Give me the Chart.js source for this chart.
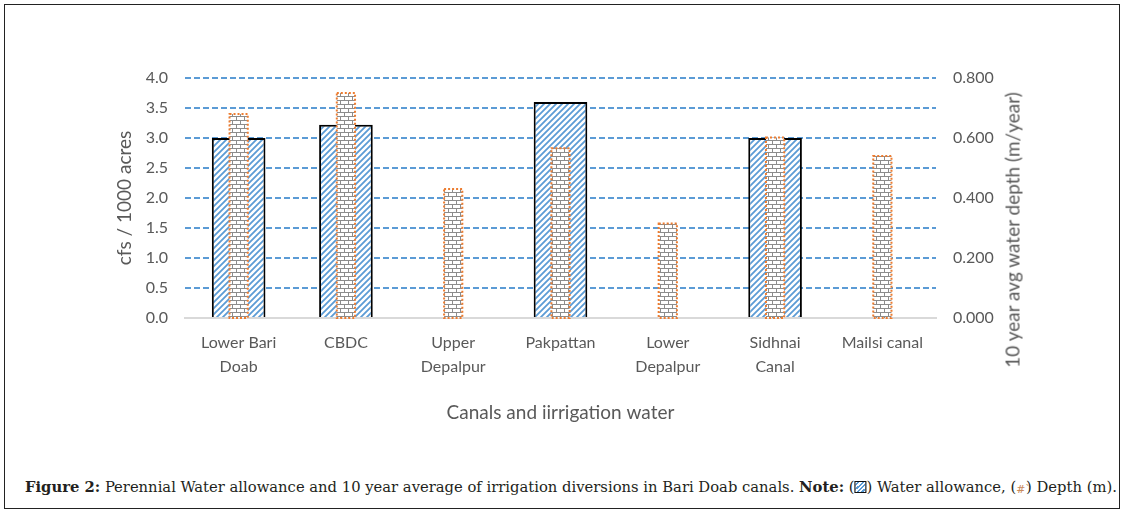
<!DOCTYPE html>
<html>
<head>
<meta charset="utf-8">
<script src="https://cdn.jsdelivr.net/npm/chart.js@4"></script>
<style>
  body { margin: 0; background: #fff; }
  #frame { position: absolute; left: 4px; top: 4px; width: 1116px; height: 505px; border: 1px solid #222; box-sizing: border-box; }
  #wrap { position: absolute; left: 0; top: 0; width: 1126px; height: 460px; }
  #rtitle { position: absolute; left: 1012px; top: 230px; transform: translate(-50%, -50%) rotate(-90deg); white-space: nowrap;
            font-family: Lato, "Liberation Sans", sans-serif; font-size: 19px; color: #595959; }
  #caption { position: absolute; left: 25px; top: 478px; font-family: "DejaVu Serif Condensed", "DejaVu Serif", serif; font-size: 15px; color: #231f20; white-space: nowrap; transform-origin: left top; }
  .ico1 { display: inline-block; width: 9px; height: 10px; border: 1.5px solid #111; vertical-align: -1px;
          background: repeating-linear-gradient(-45deg, #fff 0 1.5px, #5b9bd5 1.5px 3px); }
  .ico2 { display: inline-block; width: 9px; height: 10px; vertical-align: -1px; color: #c98a5a; font-size: 11px; line-height: 10px; }
</style>
</head>
<body>
<div id="frame"></div>
<div id="wrap"><canvas id="chart" width="1126" height="460"></canvas></div>
<div id="rtitle">10 year avg water depth (m/year)</div>
<div id="caption"><b>Figure 2:</b> Perennial Water allowance and 10 year average of irrigation diversions in Bari Doab canals. <b>Note:</b> (<span class="ico1"></span>) Water allowance, (<span class="ico2">#`</span>) Depth (m).</div>
<script>
// canals
let canals = [["Lower Bari", "Doab"], "CBDC", ["Upper", "Depalpur"], "Pakpattan", ["Lower", "Depalpur"], ["Sidhnai", "Canal"], "Mailsi canal"];
// cfs / 1000 acres (left axis)
let allowance = [3.0, 3.22, null, 3.6, null, 3.0, null];
// 10 year avg water depth, m/year (right axis)
let depth = [0.68, 0.75, 0.43, 0.566, 0.315, 0.602, 0.54];

let leftTicks = [0, 0.5, 1.0, 1.5, 2.0, 2.5, 3.0, 3.5, 4.0];
let rightTicks = [0, 0.2, 0.4, 0.6, 0.8];

let textColor = "#595959";
let fontFam = "Lato, 'Liberation Sans', sans-serif";

// hatch pattern for water allowance
function stripes() {
  let c = document.createElement("canvas");
  c.width = 6; c.height = 6;
  let g = c.getContext("2d");
  g.fillStyle = "#fff"; g.fillRect(0, 0, 6, 6);
  g.strokeStyle = "#5b9bd5"; g.lineWidth = 1.8;
  g.beginPath();
  g.moveTo(-1, 7); g.lineTo(7, -1);
  g.moveTo(-4, 4); g.lineTo(4, -4);
  g.moveTo(2, 10); g.lineTo(10, 2);
  g.stroke();
  return g.createPattern(c, "repeat");
}

// brick pattern for depth
function bricks() {
  let c = document.createElement("canvas");
  c.width = 8; c.height = 8;
  let g = c.getContext("2d");
  g.fillStyle = "#fff"; g.fillRect(0, 0, 8, 8);
  g.fillStyle = "#8c8c8c";
  g.fillRect(0, 0, 8, 1);
  g.fillRect(0, 4, 8, 1);
  g.fillRect(0, 0, 1, 4);
  g.fillRect(4, 4, 1, 4);
  return g.createPattern(c, "repeat");
}

// dotted orange outline around the depth bars
let dottedOutline = {
  id: "dottedOutline",
  afterDatasetDraw(chart, args) {
    if (args.index !== 1) return;
    let ctx = chart.ctx;
    ctx.save();
    ctx.strokeStyle = "#ed7d31";
    ctx.lineWidth = 2;
    ctx.setLineDash([2, 2]);
    args.meta.data.forEach(bar => {
      let p = bar.getProps(["x", "y", "base", "width"], true);
      ctx.strokeRect(p.x - p.width / 2, p.y, p.width, p.base - p.y);
    });
    ctx.restore();
  }
};

let ctx = document.getElementById("chart").getContext("2d");

let chart = new Chart(ctx, {
  type: "bar",
  data: {
    labels: canals,
    datasets: [{
      label: "Water allowance",
      data: allowance,
      yAxisID: "y",
      backgroundColor: stripes(),
      borderColor: "#000",
      borderWidth: 2,
      borderSkipped: "start",
      grouped: false,
      barPercentage: 0.5,
      categoryPercentage: 1,
      order: 2
    }, {
      label: "Depth (m)",
      data: depth,
      yAxisID: "y1",
      backgroundColor: bricks(),
      borderWidth: 0,
      grouped: false,
      barPercentage: 0.17,
      categoryPercentage: 1,
      order: 1
    }]
  },
  options: {
    responsive: false,
    animation: false,
    layout: { padding: { left: 100, right: 96, top: 78, bottom: 30 } },
    plugins: { legend: { display: false }, tooltip: { enabled: false } },
    scales: {
      x: {
        grid: { display: false, drawTicks: false },
        border: { display: true, color: "#d9d9d9", width: 2 },
        ticks: { color: textColor, font: { family: fontFam, size: 16, lineHeight: 1.5 }, padding: 13, maxRotation: 0, autoSkip: false },
        title: { display: true, text: "Canals and iirrigation water", color: textColor, font: { family: fontFam, size: 19 }, padding: { top: 0, bottom: 6 } },
        afterFit(scale) { scale.height = 112; }
      },
      y: {
        position: "left",
        min: 0, max: 4,
        afterBuildTicks(scale) { scale.ticks = leftTicks.map(v => ({ value: v })); },
        grid: {
          drawTicks: false,
          color: c => c.tick && c.tick.value === 0 ? "rgba(0,0,0,0)" : "#5b9bd5",
          lineWidth: 2
        },
        border: { display: false, dash: [6, 3] },
        ticks: { color: textColor, font: { family: fontFam, size: 16 }, padding: 17, callback: v => v.toFixed(1) },
        title: { display: true, text: "cfs / 1000 acres", color: textColor, font: { family: fontFam, size: 19 }, padding: { top: 13, bottom: 0 } },
        afterFit(scale) { scale.width = 85; }
      },
      y1: {
        position: "right",
        min: 0, max: 0.8,
        afterBuildTicks(scale) { scale.ticks = rightTicks.map(v => ({ value: v })); },
        grid: { display: false, drawTicks: false },
        border: { display: false },
        ticks: { color: textColor, font: { family: fontFam, size: 16 }, padding: 17, callback: v => v.toFixed(3) },
        title: { display: false },
        afterFit(scale) { scale.width = 94; }
      }
    }
  },
  plugins: [dottedOutline]
});

// fit caption to the width of the figure line
let cap = document.getElementById("caption");
let w = cap.scrollWidth;
cap.style.transform = "scaleX(" + (1092 / w) + ")";
</script>
</body>
</html>
